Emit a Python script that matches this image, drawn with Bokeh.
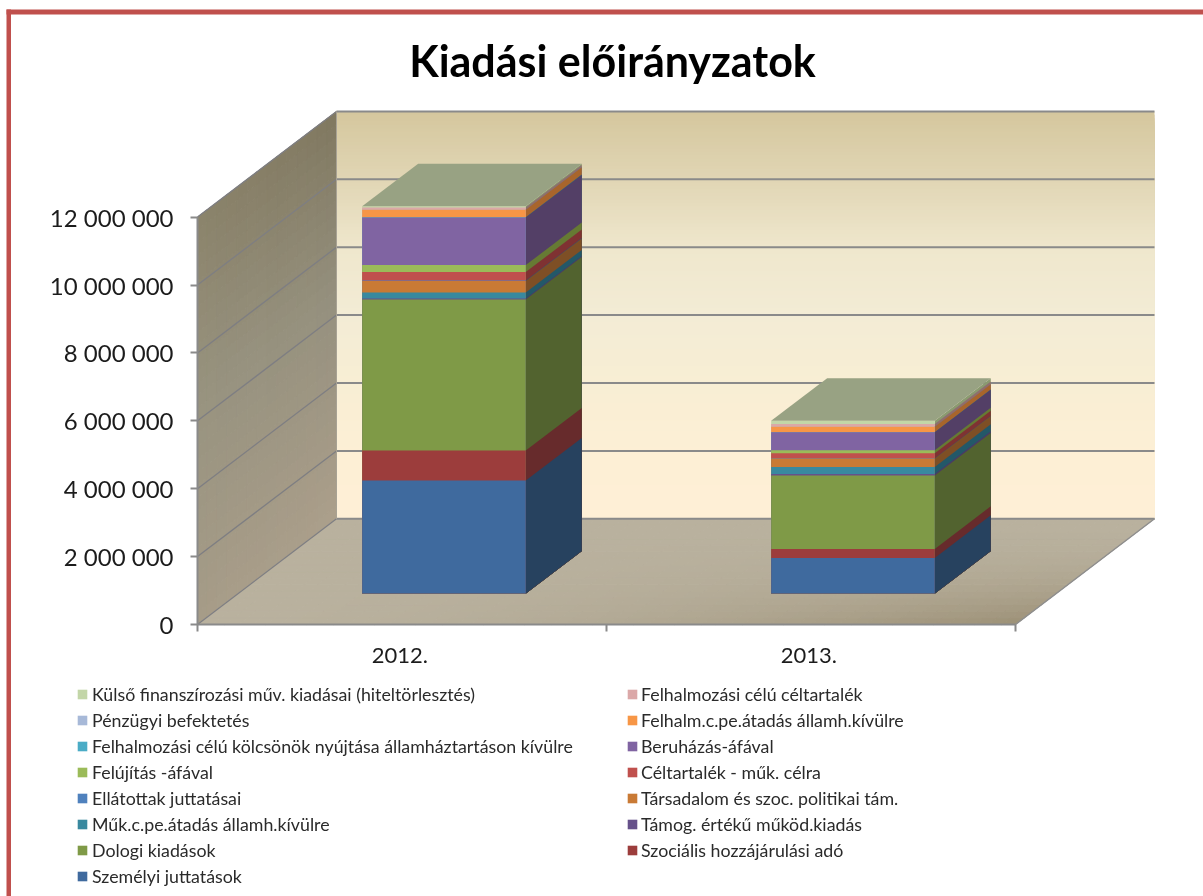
from bokeh.plotting import figure
from bokeh.models import Range1d, LinearAxis, FixedTicker, Legend, LegendItem, BoxAnnotation, Label
from bokeh.embed import file_html
from bokeh.resources import INLINE

categories = ["2012.", "2013."]
y_ticks = [0, 2000000, 4000000, 6000000, 8000000, 10000000, 12000000]
y_tick_labels = ["0", "2 000 000", "4 000 000", "6 000 000", "8 000 000", "10 000 000", "12 000 000"]

# stacking order, bottom to top
series_names = [
    "Személyi juttatások", "Szociális hozzájárulási adó", "Dologi kiadások",
    "Támog. értékű működ.kiadás", "Műk.c.pe.átadás államh.kívülre",
    "Társadalom és szoc. politikai tám.", "Ellátottak juttatásai",
    "Céltartalék - műk. célra", "Felújítás -áfával", "Beruházás-áfával",
    "Felhalmozási célú kölcsönök nyújtása államháztartáson kívülre",
    "Felhalm.c.pe.átadás államh.kívülre", "Pénzügyi befektetés",
    "Felhalmozási célú céltartalék", "Külső finanszírozási műv. kiadásai (hiteltörlesztés)",
]
values_2012 = [3328000, 884000, 4448000, 30000, 177000, 339000, 12000, 250000, 206000, 1402000, 10000, 218000, 3000, 60000, 40000]
values_2013 = [1050000, 265000, 2160000, 47000, 206000, 247000, 8000, 147000, 88000, 530000, 5000, 156000, 3000, 80000, 97000]
front_colors = ["#3F6A9E", "#9C3D3C", "#7F9A47", "#66518A", "#39899F", "#C97A35", "#4F81BD", "#C0504D",
                "#9BBB59", "#8064A2", "#4BACC6", "#F79646", "#A7B9D8", "#DBA8A8", "#C3D6A8"]
side_colors = ["#27425F", "#672B2C", "#52632F", "#4A3A66", "#235868", "#7E4F25", "#2F5075", "#7F3232",
               "#667A33", "#533F66", "#2C6A7C", "#A8652C", "#6C7A90", "#8F6E6E", "#8A9A70"]
top_color = "#98A283"
legend_left = ["Külső finanszírozási műv. kiadásai (hiteltörlesztés)", "Pénzügyi befektetés",
               "Felhalmozási célú kölcsönök nyújtása államháztartáson kívülre", "Felújítás -áfával",
               "Ellátottak juttatásai", "Műk.c.pe.átadás államh.kívülre", "Dologi kiadások", "Személyi juttatások"]
legend_right = ["Felhalmozási célú céltartalék", "Felhalm.c.pe.átadás államh.kívülre", "Beruházás-áfával",
                "Céltartalék - műk. célra", "Társadalom és szoc. politikai tám.", "Támog. értékű működ.kiadás",
                "Szociális hozzájárulási adó"]
title_text = "Kiadási előirányzatok"

GRID = "#8A8A8A"
TEXT = "#1C1C1C"
FONT = "Lato"
W, H = 1203, 896
X0, Y0 = 197, 624         # page position of the origin
PX_X = 409.0              # pixels per category
PX_V = 67.9 / 2000000     # pixels per value unit
DX = 139.0 / PX_X         # depth shift, in category units
DV = 105.7 / PX_V         # depth shift, in value units
Z0, Z1 = 0.293, 0.696     # bar depth span
BAR_W = 0.4
CENTERS = [0.503, 1.503]


def px(c, z):
    return c + z * DX


def py(v, z):
    return v + z * DV


def hexrgb(h):
    return tuple(int(h[i:i + 2], 16) for i in (1, 3, 5))


def mix(a, b, t):
    ra, rb = hexrgb(a), hexrgb(b)
    return "#%02X%02X%02X" % tuple(round(x + (y - x) * t) for x, y in zip(ra, rb))


def bilinear(c00, c10, c01, c11, u, w):
    return mix(mix(c00, c10, u), mix(c01, c11, u), w)


p = figure(width=W, height=H, x_range=Range1d(-X0 / PX_X, (W - X0) / PX_X),
           y_range=Range1d((Y0 - H) / PX_V, Y0 / PX_V), toolbar_location=None,
           output_backend="svg", min_border=0, outline_line_color=None,
           background_fill_color="white", border_fill_color="white",
           x_axis_type=None, y_axis_type=None)
p.styles = {"position": "fixed", "left": "0px", "top": "0px"}
p.grid.visible = False

# back wall: painter's gradient
wall_stops = [(12000000, "#D5C79E"), (10000000, "#E1D6B5"), (8000000, "#EFE7CD"), (6000000, "#F3ECD5"),
              (4000000, "#F8EED4"), (2000000, "#FDEFD5"), (0, "#FEEFD6")]
wall_x0, wall_x1 = px(0, 1), px(2, 1)
wall_steps = 120
for i in range(wall_steps):
    t = i / wall_steps
    v = 12000000 * (1 - t)
    k = min(int(t * 6), 5)
    tt = t * 6 - k
    col = mix(wall_stops[k][1], wall_stops[k + 1][1], tt)
    p.patch([wall_x0, wall_x1, wall_x1, wall_x0], [py(v, 1), py(v, 1), py(0, 1), py(0, 1)],
            fill_color=col, line_color=None)

# side wall: grid of small cells
sx, sy, sc = [], [], []
NZ, NV = 14, 32
for i in range(NZ):
    for j in range(NV):
        z0, z1 = i / NZ, (i + 1) / NZ
        v0, v1 = 12000000 * j / NV, 12000000 * (j + 1) / NV
        sx.append([px(0, z0), px(0, z1), px(0, z1), px(0, z0)])
        sy.append([py(v0, z0), py(v0, z1), py(v1, z1), py(v1, z0)])
        w = (j + .5) / NV
        u = (i + .5) / NZ
        if w < 0.55:
            col = bilinear("#A69C88", "#AC9F8B", "#98937F", "#95907E", u, w / 0.55)
        else:
            col = bilinear("#98937F", "#95907E", "#8B836B", "#807860", u, (w - 0.55) / 0.45)
        sc.append(col)
p.patches(sx, sy, fill_color=sc, line_color=sc, line_width=1)

# floor: grid of small cells
fx, fy, fc = [], [], []
NC, NF = 60, 16
for i in range(NC):
    for j in range(NF):
        c0, c1 = 2 * i / NC, 2 * (i + 1) / NC
        z0, z1 = j / NF, (j + 1) / NF
        fx.append([px(c0, z0), px(c1, z0), px(c1, z1), px(c0, z1)])
        fy.append([py(0, z0), py(0, z0), py(0, z1), py(0, z1)])
        t = ((1 - (j + .5) / NF) * ((i + .5) / NC)) ** 2
        fc.append(mix("#B9B19E", "#9C9076", t))
p.patches(fx, fy, fill_color=fc, line_color=fc, line_width=1)

# gridlines and wall edges
for v in y_ticks:
    p.line([px(0, 0), px(0, 1)], [py(v, 0), py(v, 1)], line_color="#7E7E82", line_width=1.3)
    p.line([px(0, 1), px(2, 1)], [py(v, 1), py(v, 1)], line_color=GRID, line_width=2)
p.line([px(0, 1), px(0, 1)], [py(0, 1), py(12000000, 1)], line_color="#A8A294", line_width=1)
p.line([px(2, 0), px(2, 1)], [py(0, 0), py(0, 1)], line_color="#8E8E8E", line_width=1.4)
p.line([px(0, 0), px(2, 0)], [py(0, 0), py(0, 0)], line_color=GRID, line_width=2)

# stacked bars, painted top series first so that neighbours share no seam
renderers = {}
for n in reversed(range(len(series_names))):
    name = series_names[n]
    fxs, fys, sxs, sys = [], [], [], []
    for c, col in zip(CENTERS, [values_2012, values_2013]):
        t = sum(col[:n + 1])
        l, r = c - BAR_W / 2, c + BAR_W / 2
        sxs.append([px(r, Z0), px(r, Z1), px(r, Z1), px(r, Z0)])
        sys.append([py(0, Z0), py(0, Z1), py(t, Z1), py(t, Z0)])
        fxs.append([px(l, Z0), px(r, Z0), px(r, Z0), px(l, Z0)])
        fys.append([py(0, Z0), py(0, Z0), py(t, Z0), py(t, Z0)])
    p.patches(sxs, sys, fill_color=side_colors[n], line_color=None)
    renderers[name] = p.patches(fxs, fys, fill_color=front_colors[n], line_color=None)

tops_x, tops_y = [], []
for c, col in zip(CENTERS, [values_2012, values_2013]):
    t = sum(col)
    l, r = c - BAR_W / 2, c + BAR_W / 2
    tops_x.append([px(l, Z0), px(r, Z0), px(r, Z1), px(l, Z1)])
    tops_y.append([py(t, Z0), py(t, Z0), py(t, Z1), py(t, Z1)])
p.patches(tops_x, tops_y, fill_color=top_color, line_color=None)

# axes
yax = LinearAxis(ticker=FixedTicker(ticks=y_ticks), bounds=(0, 12000000), fixed_location=0,
                 major_label_overrides=dict(zip(y_ticks, y_tick_labels)))
yax.axis_line_color = GRID
yax.axis_line_width = 2
yax.major_tick_line_color = GRID
yax.major_tick_line_width = 2
yax.major_tick_out = 7
yax.major_tick_in = 0
yax.minor_tick_line_color = None
yax.major_label_text_font = FONT
yax.major_label_text_font_size = "24px"
yax.major_label_text_color = TEXT
yax.major_label_standoff = 17
p.add_layout(yax, "left")

xax = LinearAxis(ticker=FixedTicker(ticks=[0.495, 1.495], minor_ticks=[0, 1, 2]), bounds=(0, 2), fixed_location=0,
                 major_label_overrides={0.495: categories[0], 1.495: categories[1]})
xax.axis_line_color = None
xax.major_tick_line_color = None
xax.minor_tick_line_color = GRID
xax.minor_tick_line_width = 2
xax.minor_tick_out = 7
xax.minor_tick_in = 0
xax.major_label_text_font = FONT
xax.major_label_text_font_size = "22px"
xax.major_label_text_color = TEXT
xax.major_label_standoff = 16
p.add_layout(xax, "below")

p.add_layout(Label(x=612, y=H - 60, x_units="screen", y_units="screen", text=title_text,
                   text_font=FONT, text_font_size="43px", text_font_style="bold", text_color="#000000",
                   text_align="center", text_baseline="middle"))


def make_legend(labels, x, y, standoff):
    leg = Legend(items=[LegendItem(label=s, renderers=[renderers[s]]) for s in labels],
                 location=(x, y), background_fill_alpha=0, border_line_color=None,
                 label_text_font=FONT, label_text_font_size="17.8px", label_text_color="#2A2A2A",
                 glyph_width=12, glyph_height=12, label_standoff=standoff, spacing=4, label_height=20,
                 padding=0, margin=0)
    p.add_layout(leg, "center")


make_legend(legend_left, 76, H - 887, 4)
make_legend(legend_right, 626, H - 861, 3)

# outer frame, cut off by the window on the right and at the bottom
RED = "#C0504D"
p.add_layout(BoxAnnotation(left=6, right=W, top=H - 9, bottom=H - 14, left_units="screen", right_units="screen",
                           top_units="screen", bottom_units="screen", fill_color=RED, fill_alpha=1,
                           line_color=None, level="overlay"))
p.add_layout(BoxAnnotation(left=6, right=10.5, top=H - 9, bottom=0, left_units="screen", right_units="screen",
                           top_units="screen", bottom_units="screen", fill_color=RED, fill_alpha=1,
                           line_color=None, level="overlay"))

open("out.html", "w").write(file_html(p, INLINE))
